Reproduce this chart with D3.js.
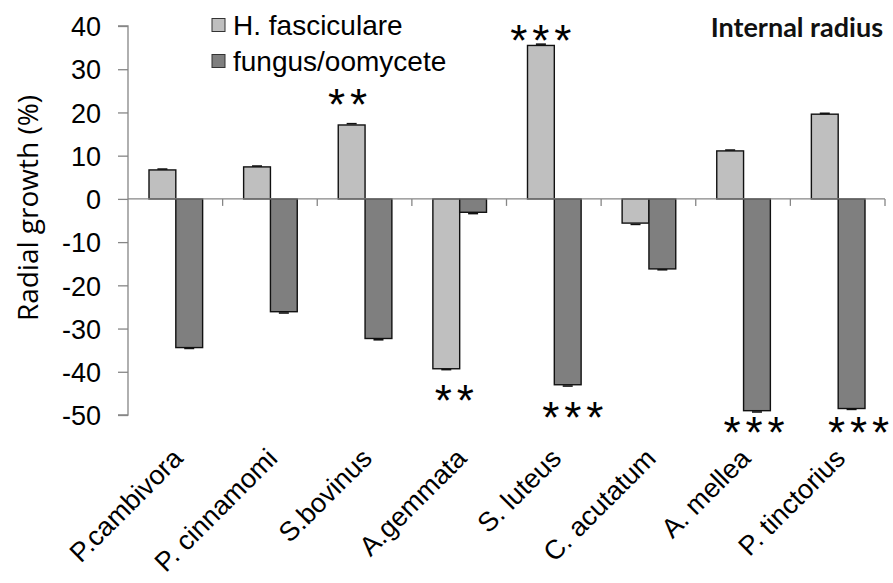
<!DOCTYPE html>
<html>
<head>
<meta charset="utf-8">
<script src="https://cdn.jsdelivr.net/npm/d3@7"></script>
<style>
  body { margin: 0; background: #fff; }
  svg { display: block; }
</style>
</head>
<body>
<svg id="chart" width="893" height="583"></svg>
<script>
// ---- data ----
const categories = ["P.cambivora", "P. cinnamomi", "S.bovinus", "A.gemmata", "S. luteus", "C. acutatum", "A. mellea", "P. tinctorius"];
const seriesNames = ["H. fasciculare", "fungus/oomycete"];
const hfValues = [6.7, 7.4, 17.1, -39.3, 35.5, -5.6, 11.1, 19.6];
const fungusValues = [-34.4, -26.1, -32.3, -3.1, -43.0, -16.2, -49.0, -48.5];
const hfErrors = [0.2, 0.2, 0.3, 0.2, 0.3, 0.3, 0.2, 0.2];
const fungusErrors = [0.2, 0.3, 0.3, 0.3, 0.3, 0.2, 0.3, 0.2];
// significance marks: [category index, series index, label]
const marks = [[2, 0, "**"], [4, 0, "***"], [3, 0, "**"], [4, 1, "***"], [6, 1, "***"], [7, 1, "***"]];
const yTicks = [40, 30, 20, 10, 0, -10, -20, -30, -40, -50];
const panelTitle = "Internal radius";
const yTitle = "Radial growth (%)";

(function () {
// ---- layout ----
const svg = d3.select("#chart");
const pLeft = 128, pRight = 885, pTop = 26, pBottom = 415;
const colors = ["#bfbfbf", "#7f7f7f"];
const axisColor = "#868686";
const arial = "Liberation Sans, Arial, sans-serif";
// hand placement of significance marks relative to bar end: [dx, gap from bar end to star centre]
const markOffsets = [[-4, 29], [0, 14], [8, 23], [5, 24], [-3, 13], [7, 15]];

const y = d3.scaleLinear().domain([-50, 40]).range([pBottom, pTop]);
const x0 = d3.scaleBand().domain(categories).range([pLeft, pRight]).paddingInner(0).paddingOuter(0);
const x1 = d3.scaleBand().domain([0, 1]).range([21, x0.bandwidth() - 20]);

const data = categories.map((c, i) => ({ c, vals: [hfValues[i], fungusValues[i]], errs: [hfErrors[i], fungusErrors[i]] }));

// bars
const g = svg.append("g");
data.forEach(d => {
  d.vals.forEach((v, s) => {
    const bx = x0(d.c) + x1(s);
    g.append("rect")
      .attr("x", bx)
      .attr("y", Math.min(y(v), y(0)))
      .attr("width", x1.bandwidth())
      .attr("height", Math.abs(y(v) - y(0)))
      .attr("fill", colors[s])
      .attr("stroke", "#111")
      .attr("stroke-width", 1.4);
    const e = d.errs[s];
    const cx = bx + x1.bandwidth() / 2;
    const ye = y(v + (v >= 0 ? e : -e));
    g.append("line")
      .attr("x1", cx - 5).attr("x2", cx + 5)
      .attr("y1", ye).attr("y2", ye)
      .attr("stroke", "#111").attr("stroke-width", 1.6);
  });
});

// y axis
const yAxis = d3.axisLeft(y).tickValues(yTicks).tickSize(10).tickPadding(17).tickFormat(d => String(d));
const ya = svg.append("g").attr("transform", `translate(${pLeft},0)`).call(yAxis);
ya.select(".domain").attr("stroke", axisColor).attr("stroke-width", 1.3).attr("d", `M-10,${pTop}H0V${pBottom}H-10`);
ya.selectAll(".tick line").attr("stroke", axisColor).attr("stroke-width", 1.3);
ya.selectAll(".tick text").attr("font-family", arial).attr("font-size", 27).attr("fill", "#000").attr("dy", "0.36em");

// x axis at zero
const xa = svg.append("g").attr("transform", `translate(0,${y(0)})`);
xa.append("line").attr("x1", pLeft).attr("x2", pRight).attr("stroke", axisColor).attr("stroke-width", 1.3);
const bounds = categories.map(c => x0(c)).concat([pRight]);
xa.selectAll(".xt").data(bounds.slice(1)).enter().append("line")
  .attr("x1", d => d).attr("x2", d => d).attr("y1", 0).attr("y2", 7)
  .attr("stroke", axisColor).attr("stroke-width", 1.3);

// category labels
svg.selectAll(".xl").data(categories).enter().append("text")
  .attr("transform", d => `translate(${x0(d) + x0.bandwidth() / 2 + 9},${460}) rotate(-45)`)
  .attr("text-anchor", "end")
  .attr("font-family", arial)
  .attr("font-size", 27)
  .text(d => d);

// significance stars
const starSize = 44, starStep = 22;
marks.forEach(([ci, s, lab], k) => {
  const v = s === 0 ? hfValues[ci] : fungusValues[ci];
  const [dx, gap] = markOffsets[k];
  const cx = x0(categories[ci]) + x1(s) + x1.bandwidth() / 2 + dx;
  const cy = v >= 0 ? y(v) - gap : y(v) + gap;
  const n = lab.length;
  const t = svg.append("text")
    .attr("y", cy + 0.55 * starSize)
    .attr("font-family", arial)
    .attr("font-size", starSize);
  for (let j = 0; j < n; j++) {
    t.append("tspan")
      .attr("x", cx + (j - (n - 1) / 2) * starStep)
      .attr("text-anchor", "middle")
      .text(lab[j]);
  }
});

// legend
const lg = svg.append("g");
seriesNames.forEach((n, i) => {
  lg.append("rect").attr("x", 212).attr("y", 18.5 + i * 36).attr("width", 13).attr("height", 13)
    .attr("fill", colors[i]).attr("stroke", "#333").attr("stroke-width", 1);
  lg.append("text").attr("x", 233).attr("y", 35 + i * 36)
    .attr("font-family", arial).attr("font-size", 28)
    .text(n);
});

// panel title
svg.append("text").attr("x", 883).attr("y", 37).attr("text-anchor", "end")
  .attr("font-family", "Lato, sans-serif").attr("font-weight", "bold").attr("font-size", 27)
  .attr("fill", "#111")
  .text(panelTitle);

// y title
svg.append("text").attr("transform", `translate(38,208) rotate(-90)`).attr("text-anchor", "middle")
  .attr("font-family", "Open Sans, sans-serif").attr("font-size", 28)
  .text(yTitle);
})();
</script>
</body>
</html>
